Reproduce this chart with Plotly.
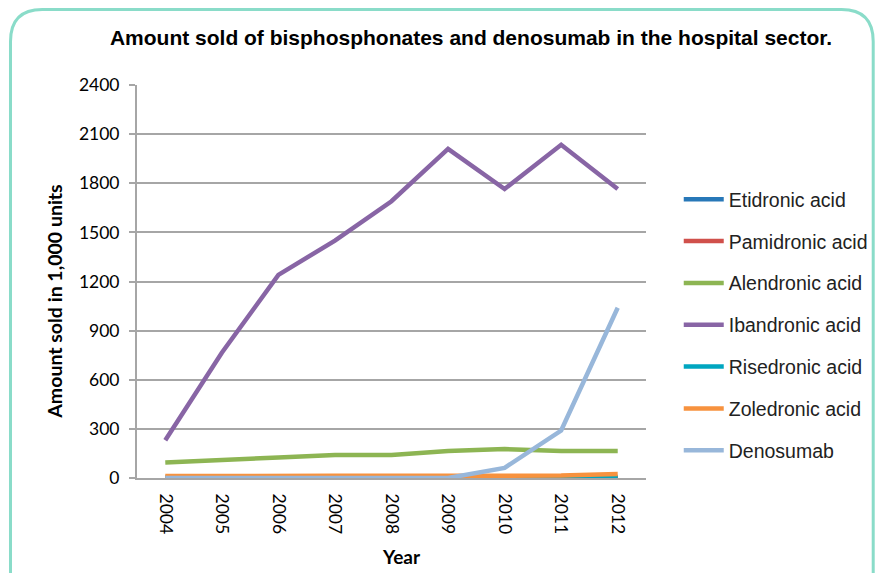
import plotly.graph_objects as go

years = ["2004", "2005", "2006", "2007", "2008", "2009", "2010", "2011", "2012"]
etidronic = [0, 0, 0, 0, 0, 0, 0, 0, 0]
pamidronic = [0, 0, 0, 0, 0, 0, 0, 0, 0]
alendronic = [95, 113, 125, 140, 140, 165, 177, 165, 165]
ibandronic = [230, 765, 1240, 1450, 1690, 2010, 1765, 2035, 1765]
risedronic = [1, 1, 1, 1, 1, 1, 2, 3, 6]
zoledronic = [12, 14, 13, 13, 13, 13, 15, 15, 25]
denosumab = [0, 0, 0, 0, 0, 0, 62, 290, 1040]

series = [
    ("Etidronic acid", etidronic, "#2878b8"),
    ("Pamidronic acid", pamidronic, "#d0504b"),
    ("Alendronic acid", alendronic, "#8db553"),
    ("Ibandronic acid", ibandronic, "#8865a5"),
    ("Risedronic acid", risedronic, "#00a6c0"),
    ("Zoledronic acid", zoledronic, "#f7923e"),
    ("Denosumab", denosumab, "#98b7da"),
]

OFF = 8  # page body margin
W, H = 885 - OFF, 573 - OFF
L, R, T, B = 137 - OFF, 650 - OFF, 85 - OFF, 478 - OFF

fig = go.Figure()
for i, (name, vals, col) in enumerate(series):
    fig.add_trace(go.Scatter(
        x=years, y=vals, name=name, mode="lines",
        line=dict(color=col, width=4.5),
        legendgroup=str(i),
    ))

def px(x):
    return (x - L) / (R - L)

def py(y):
    return (B - y) / (B - T)

# rounded frame (figure pixel coords)
x0, x1, y0, y1, r = 1.5, 871, 1.5, 600, 32
pts = (
    f"M {px(x0 + r)},{py(y0)} L {px(x1 - r)},{py(y0)} "
    f"Q {px(x1)},{py(y0)} {px(x1)},{py(y0 + r)} "
    f"L {px(x1)},{py(y1)} L {px(x0)},{py(y1)} L {px(x0)},{py(y0 + r)} "
    f"Q {px(x0)},{py(y0)} {px(x0 + r)},{py(y0)} Z"
)
fig.add_shape(type="path", path=pts, xref="paper", yref="paper",
              line=dict(color="#8adcc9", width=3), layer="below")

fig.add_annotation(text="<b>Amount sold in 1,000 units</b>", textangle=-90,
                   x=px(45), y=py(294), xref="paper", yref="paper",
                   xanchor="center", yanchor="middle", showarrow=False,
                   font=dict(family="Lato", size=19.5, color="black"))
fig.add_annotation(text="<b>Year</b>",
                   x=px(396), y=py(548), xref="paper", yref="paper",
                   xanchor="center", yanchor="middle", showarrow=False,
                   font=dict(family="Lato", size=19, color="black"))

fig.update_layout(
    width=W, height=H,
    margin=dict(l=L, r=W - R, t=T, b=H - B),
    paper_bgcolor="white", plot_bgcolor="white",
    title=dict(text="<b>Amount sold of bisphosphonates and denosumab in the hospital sector.</b>",
               x=463 / W, xanchor="center", y=1 - 30 / H, yanchor="middle",
               font=dict(family="Liberation Sans", size=21, color="black")),
    font=dict(family="Lato", color="black"),
    legend=dict(x=px(675), y=py(172), xanchor="left", yanchor="top",
                font=dict(family="Liberation Sans", size=19.5, color="#222"),
                tracegroupgap=13.5, bgcolor="rgba(0,0,0,0)", itemwidth=40),
    showlegend=True,
)
fig.update_xaxes(
    type="category", range=[-0.5, 8.5], tickangle=90,
    tickfont=dict(family="Lato", size=17.5, color="black"),
    showgrid=False, showline=True, linecolor="#a6a6a6", linewidth=2,
    ticks="", ticklen=0, ticklabelstandoff=10,
)
fig.update_yaxes(
    range=[0, 2400], tickvals=[0, 300, 600, 900, 1200, 1500, 1800, 2100, 2400],
    tickfont=dict(family="Lato", size=17.5, color="black"),
    showgrid=True, gridcolor="#a6a6a6", gridwidth=2,
    showline=True, linecolor="#a6a6a6", linewidth=2,
    ticks="outside", ticklen=6, tickcolor="#a6a6a6", tickwidth=2,
    zeroline=False, ticklabelstandoff=6,
)

fig.write_html("out.html")
